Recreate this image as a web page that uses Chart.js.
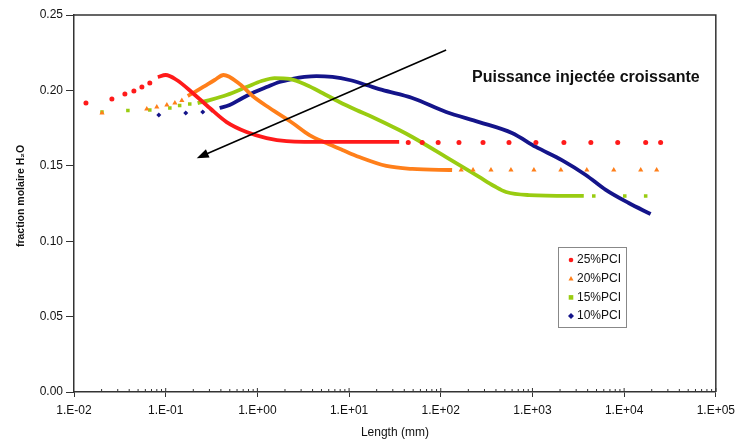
<!DOCTYPE html>
<html>
<head>
<meta charset="utf-8">
<script src="https://cdn.jsdelivr.net/npm/chart.js@4.4.0/dist/chart.umd.min.js"></script>
<style>
  html, body { margin: 0; padding: 0; background: #fff; }
</style>
</head>
<body>
<canvas id="h2oChart" width="741" height="446"></canvas>
<script>
// fraction molaire H2O vs length, four injected powers
const seriesLabels = ['25%PCI', '20%PCI', '15%PCI', '10%PCI'];
const seriesColors = ['#ff1a1a', '#ff7f1a', '#99cc11', '#14148a'];
const markerStyles = ['circle', 'triangle', 'rect', 'rectRot'];

// sparse markers before the dense part of each curve
const pci25Start = [[0.0135,0.1916],[0.0259,0.1943],[0.0359,0.1976],[0.045,0.1996],[0.055,0.2022],[0.0671,0.2049]];
const pci20Start = [[0.0202,0.185],[0.0622,0.1877],[0.080,0.189],[0.103,0.1903],[0.126,0.1916],[0.150,0.1933]];
const pci15Start = [[0.0202,0.1857],[0.0387,0.1867],[0.0671,0.187],[0.111,0.1883],[0.142,0.190],[0.183,0.191]];
const pci10Start = [[0.0841,0.1837],[0.1656,0.185],[0.2536,0.1857],[0.318,0.187]];

// dense (solid looking) part of each curve
const pci25Curve = [[0.082,0.2089],[0.1,0.2102],[0.132,0.2069],[0.197,0.1983],[0.302,0.1883],[0.462,0.179],
  [0.762,0.1724],[1.26,0.1684],[2.08,0.1664],[6.1,0.1658],[35.2,0.1658]];
const pci20Curve = [[0.174,0.1963],[0.207,0.1989],[0.266,0.2029],[0.342,0.2069],[0.428,0.2102],[0.64,0.2042],
  [0.887,0.1963],[1.36,0.1883],[2.42,0.1784],[3.70,0.1704],[5.66,0.1651],[8.45,0.1605],[12.9,0.1558],
  [25.5,0.1499],[48.9,0.1479],[133,0.1472]];
const pci15Curve = [[0.223,0.1916],[0.302,0.1936],[0.462,0.1969],[0.762,0.2022],[1.11,0.2062],[1.54,0.2082],
  [2.24,0.2076],[3.43,0.2036],[5.12,0.1983],[7.84,0.1923],[12.0,0.187],[17.9,0.1824],[35.2,0.1737],
  [48.9,0.1691],[114.5,0.1558],[262,0.1426],[381,0.1366],[515,0.1326],[916,0.1306],[3631,0.130]];
const pci10Curve = [[0.388,0.1883],[0.498,0.1903],[0.690,0.195],[0.933,0.1989],[1.26,0.2022],[1.74,0.2056],
  [2.42,0.2076],[3.26,0.2089],[4.41,0.2095],[6.58,0.2089],[10.1,0.2069],[15.4,0.2036],[23.0,0.2003],
  [48.9,0.195],[114.5,0.1857],[262,0.179],[598,0.1717],[1091,0.1625],[2094,0.1538],[3819,0.1439],
  [6310,0.134],[11220,0.1253],[19450,0.118]];

// sparse markers after the dense part
const pci25End = [[44.2,0.1655],[62.8,0.1655],[93.7,0.1655],[158,0.1655],[289,0.1655],[555,0.1655],
  [1091,0.1655],[2203,0.1655],[4335,0.1655],[8511,0.1655],[17180,0.1655],[25000,0.1655]];
const pci20End = [[167,0.1472],[225,0.1472],[353,0.1472],[583,0.1472],[1038,0.1472],[2042,0.1472],
  [3917,0.1472],[7707,0.1472],[15170,0.1472],[22640,0.1472]];
const pci15End = [[4667,0.130],[10160,0.130],[17180,0.130]];

const xDecades = [1e-2, 1e-1, 1e0, 1e1, 1e2, 1e3, 1e4, 1e5];
const yTicks = [0, 0.05, 0.10, 0.15, 0.20, 0.25];

const arrowFrom = [114.5, 0.2268];
const arrowTo = [0.218, 0.155];
const noteText = 'Puissance injectée croissante';

const toPts = arr => arr.map(p => ({ x: p[0], y: p[1] }));

const startSets = [pci25Start, pci20Start, pci15Start, pci10Start];
const curveSets = [pci25Curve, pci20Curve, pci15Curve, pci10Curve];
const endSets = [pci25End, pci20End, pci15End, []];

const datasets = [];
seriesLabels.forEach((lab, i) => {
  datasets.push({
    label: lab,
    data: toPts(curveSets[i]),
    showLine: true,
    borderColor: seriesColors[i],
    borderWidth: 3.8,
    pointRadius: 0,
    cubicInterpolationMode: 'monotone'
  });
  datasets.push({
    label: lab + ' pts',
    data: toPts(startSets[i].concat(endSets[i])),
    showLine: false,
    pointStyle: markerStyles[i],
    pointRadius: i === 1 ? 3 : 2.5,
    backgroundColor: seriesColors[i],
    borderColor: seriesColors[i],
    borderWidth: 0
  });
});

function fmtExp(v) {
  const e = Math.round(Math.log10(v));
  return '1.E' + (e < 0 ? '-' : '+') + String(Math.abs(e)).padStart(2, '0');
}

function drawMarker(ctx, style, x, y, r, color) {
  ctx.fillStyle = color;
  ctx.beginPath();
  if (style === 'circle') {
    ctx.arc(x, y, r, 0, Math.PI * 2);
  } else if (style === 'triangle') {
    ctx.moveTo(x, y - r * 1.2);
    ctx.lineTo(x + r * 1.1, y + r * 0.8);
    ctx.lineTo(x - r * 1.1, y + r * 0.8);
  } else if (style === 'rect') {
    ctx.rect(x - r, y - r, r * 2, r * 2);
  } else {
    ctx.moveTo(x, y - r * 1.3);
    ctx.lineTo(x + r * 1.3, y);
    ctx.lineTo(x, y + r * 1.3);
    ctx.lineTo(x - r * 1.3, y);
  }
  ctx.closePath();
  ctx.fill();
}

const decorPlugin = {
  id: 'decor',
  afterDraw(chart) {
    const ctx = chart.ctx;
    const a = chart.chartArea;
    const xs = chart.scales.x;
    const ys = chart.scales.y;
    ctx.save();

    // frame on top and right
    ctx.strokeStyle = '#333';
    ctx.lineWidth = 1.5;
    ctx.beginPath();
    ctx.moveTo(a.left, a.top);
    ctx.lineTo(a.right, a.top);
    ctx.lineTo(a.right, a.bottom);
    ctx.stroke();

    // minor ticks on x axis
    ctx.lineWidth = 1;
    ctx.strokeStyle = '#333';
    ctx.beginPath();
    for (let d = -2; d < 5; d++) {
      for (let k = 2; k <= 9; k++) {
        const px = xs.getPixelForValue(k * Math.pow(10, d));
        ctx.moveTo(px, a.bottom);
        ctx.lineTo(px, a.bottom - 3);
      }
      const mp = xs.getPixelForValue(Math.pow(10, d + 1));
      ctx.moveTo(mp, a.bottom);
      ctx.lineTo(mp, a.bottom - 4);
    }
    ctx.stroke();

    // arrow
    const x1 = xs.getPixelForValue(arrowFrom[0]), y1 = ys.getPixelForValue(arrowFrom[1]);
    const x2 = xs.getPixelForValue(arrowTo[0]), y2 = ys.getPixelForValue(arrowTo[1]);
    const ang = Math.atan2(y2 - y1, x2 - x1);
    ctx.strokeStyle = '#000';
    ctx.fillStyle = '#000';
    ctx.lineWidth = 1.6;
    ctx.beginPath();
    ctx.moveTo(x1, y1);
    ctx.lineTo(x2 - 8 * Math.cos(ang), y2 - 8 * Math.sin(ang));
    ctx.stroke();
    ctx.beginPath();
    ctx.moveTo(x2, y2);
    ctx.lineTo(x2 - 12 * Math.cos(ang) + 4.5 * Math.sin(ang), y2 - 12 * Math.sin(ang) - 4.5 * Math.cos(ang));
    ctx.lineTo(x2 - 12 * Math.cos(ang) - 4.5 * Math.sin(ang), y2 - 12 * Math.sin(ang) + 4.5 * Math.cos(ang));
    ctx.closePath();
    ctx.fill();

    // note text
    ctx.font = 'bold 16px "Liberation Sans", Arial, sans-serif';
    ctx.fillStyle = '#111';
    ctx.textAlign = 'left';
    ctx.textBaseline = 'middle';
    ctx.fillText(noteText, 472, 78);

    // legend box
    ctx.strokeStyle = '#888';
    ctx.lineWidth = 1;
    ctx.strokeRect(558.5, 247.5, 68, 80);
    ctx.font = '12px "Liberation Sans", Arial, sans-serif';
    seriesLabels.forEach((lab, i) => {
      const y = 260 + i * 18.7;
      drawMarker(ctx, markerStyles[i], 571, y, 2.3, seriesColors[i]);
      ctx.fillStyle = '#111';
      ctx.fillText(lab, 577, y);
    });

    // axis titles
    ctx.fillStyle = '#111';
    ctx.font = '12px "Liberation Sans", Arial, sans-serif';
    ctx.textAlign = 'center';
    ctx.fillText('Length (mm)', (a.left + a.right) / 2, 433);
    ctx.translate(21, 196);
    ctx.rotate(-Math.PI / 2);
    ctx.font = 'bold 10.5px "Liberation Sans", Arial, sans-serif';
    ctx.fillText('fraction molaire H₂O', 0, 0);

    ctx.restore();
  }
};

new Chart(document.getElementById('h2oChart'), {
  type: 'scatter',
  data: { datasets: datasets },
  options: {
    responsive: false,
    animation: false,
    layout: { padding: { left: 0, top: 15, right: 22, bottom: 0 } },
    plugins: {
      legend: { display: false },
      tooltip: { enabled: false }
    },
    scales: {
      x: {
        type: 'logarithmic',
        min: 1e-2,
        max: 1e5,
        afterBuildTicks: scale => { scale.ticks = xDecades.map(v => ({ value: v })); },
        afterFit: scale => { scale.height = 54; },
        grid: { drawOnChartArea: false, tickLength: 5, color: '#333' },
        border: { color: '#333', width: 1.5 },
        ticks: {
          callback: v => fmtExp(v),
          color: '#111',
          padding: 6,
          maxRotation: 0,
          autoSkip: false,
          font: { family: '"Liberation Sans", Arial, sans-serif', size: 12 }
        }
      },
      y: {
        min: 0,
        max: 0.25,
        afterBuildTicks: scale => { scale.ticks = yTicks.map(v => ({ value: v })); },
        afterFit: scale => { scale.width = 74; },
        grid: { drawOnChartArea: false, tickLength: 8, color: '#333' },
        border: { color: '#333', width: 1.5 },
        ticks: {
          callback: v => v.toFixed(2),
          color: '#111',
          padding: 3,
          font: { family: '"Liberation Sans", Arial, sans-serif', size: 12 }
        }
      }
    }
  },
  plugins: [decorPlugin]
});
</script>
</body>
</html>
